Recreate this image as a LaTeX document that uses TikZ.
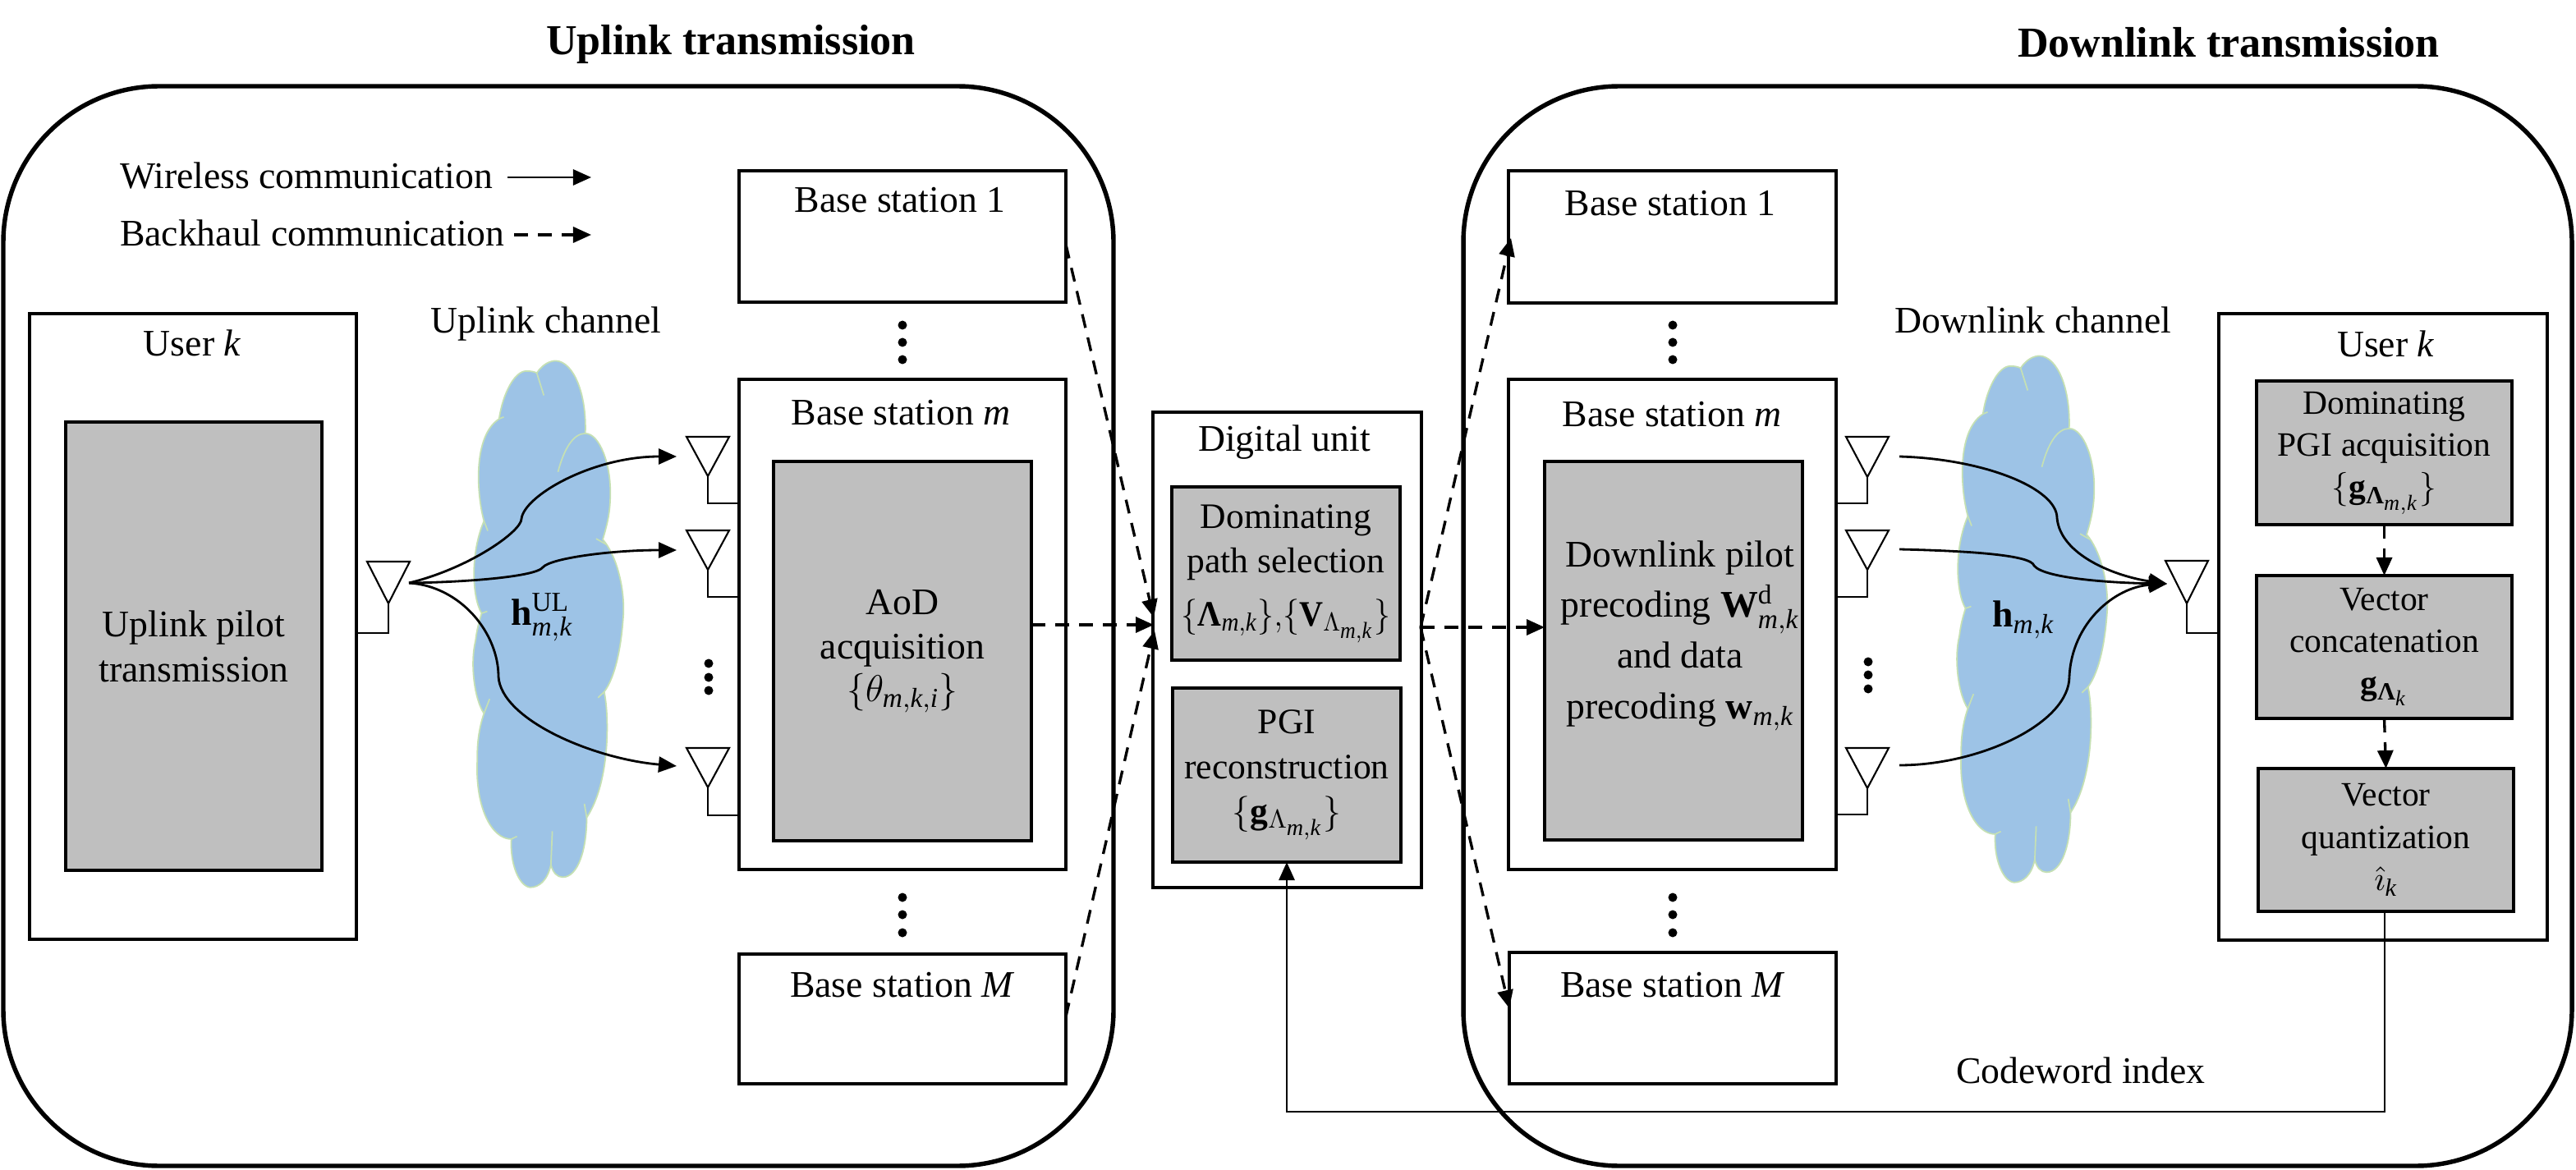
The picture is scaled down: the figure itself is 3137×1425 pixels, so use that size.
\documentclass[tikz,border=0pt]{standalone}
\usepackage{amsmath}
\usepackage{graphicx}
\usepackage{fontspec}
\setmainfont{Liberation Serif}
\usepackage{fix-cm}
\usetikzlibrary{arrows.meta}
\DeclareMathSizes{13}{13}{9.5}{8}
\DeclareMathSizes{12.4}{12.4}{9}{8}
\DeclareMathSizes{11.8}{11.8}{8.6}{7.5}
\DeclareSymbolFont{serifit}{TU}{\rmdefault}{m}{it}
\DeclareMathSymbol{m}{\mathalpha}{serifit}{`m}
\DeclareMathSymbol{k}{\mathalpha}{serifit}{`k}
\DeclareMathSymbol{M}{\mathalpha}{serifit}{`M}
\DeclareMathSymbol{i}{\mathalpha}{serifit}{`i}
\definecolor{greybox}{HTML}{BFBFBF}
\definecolor{cloudfill}{HTML}{9DC3E6}
\definecolor{cloudline}{HTML}{C5E0B4}
\newcommand{\BL}{\text{\textbf{Λ}}}
\tikzset{
  frame/.style={draw=black,line width=1.55pt,rounded corners=1.9cm,inner sep=0pt,outer sep=0pt},
  wbox/.style={draw=black,fill=white,line width=1pt,inner sep=0pt,outer sep=0pt,align=center},
  gbox/.style={draw=black,fill=greybox,line width=1pt,inner sep=0pt,outer sep=0pt,align=center,font=\fontsize{13}{15.6}\selectfont},
  gdu/.style={gbox,font=\fontsize{12.4}{15.4}\selectfont},
  guser/.style={gbox,font=\fontsize{11.8}{14.6}\selectfont},
  lbl/.style={inner sep=0pt,outer sep=0pt,align=center,font=\fontsize{13}{15.6}\selectfont},
  ttl/.style={inner sep=0pt,outer sep=0pt,font=\fontsize{14.8}{17}\selectfont\bfseries},
  wl/.style={draw=black,line width=0.8pt,-{Triangle[length=0.22cm,width=0.19cm]}},
  bh/.style={draw=black,line width=0.95pt,dash pattern=on 0.17cm off 0.12cm,-{Triangle[length=0.22cm,width=0.19cm]}},
  ant/.style={draw=black,line width=0.6pt},
  cloudshape/.style={fill=cloudfill,draw=cloudline,line width=0.5pt},
  cloudseam/.style={draw=cloudline,line width=0.5pt}
}
% name, style, x1,y1,x2,y2, text
\newcommand{\bx}[7]{\node[#2,minimum width={(#5-#3)*0.01cm},minimum height={(#6-#4)*0.01cm}] (#1) at ({(#3+#5)/2},{(#4+#6)/2}) {#7};}
% name, xleft, xcentre, xright, ytop, ytip, yelbow, xbox
\newcommand{\antenna}[8]{\coordinate (#1) at (#3,#5);
  \draw[ant] (#2,#5) -- (#4,#5) -- (#3,#6) -- cycle;
  \draw[ant] (#3,#6) -- (#3,#7) -- (#8,#7);}
\newcommand{\vdotsat}[4]{\fill (#1,#2) circle (0.055cm) (#1,#3) circle (0.055cm) (#1,#4) circle (0.055cm);}
\newcommand{\cloudart}{%
  \path[cloudshape] (442,218) .. controls (455,195) and (470,187) .. (483,187)
    .. controls (520,190) and (548,270) .. (545,372)
    .. controls (575,372) and (600,450) .. (598,530)
    .. controls (598,575) and (590,610) .. (582,642)
    .. controls (610,680) and (628,760) .. (626,830)
    .. controls (622,910) and (610,990) .. (585,1030)
    .. controls (596,1090) and (598,1260) .. (548,1350)
    .. controls (548,1430) and (530,1502) .. (497,1502)
    .. controls (485,1502) and (476,1490) .. (472,1470)
    .. controls (465,1510) and (447,1528) .. (428,1528)
    .. controls (405,1525) and (385,1470) .. (388,1405)
    .. controls (345,1405) and (310,1320) .. (316,1200)
    .. controls (315,1160) and (320,1120) .. (330,1085)
    .. controls (310,1050) and (300,960) .. (312,900)
    .. controls (315,870) and (320,850) .. (325,830)
    .. controls (305,790) and (300,680) .. (330,595)
    .. controls (315,530) and (305,380) .. (362,335)
    .. controls (370,270) and (395,213) .. (420,213)
    .. controls (430,213) and (437,215) .. (442,218) -- cycle;
  \draw[cloudseam] (442,218) -- (457,275);
  \draw[cloudseam] (545,372) .. controls (520,372) and (500,410) .. (487,470);
  \draw[cloudseam] (330,595) -- (338,620);
  \draw[cloudseam] (568,640) -- (590,655);
  \draw[cloudseam] (325,830) -- (337,825);
  \draw[cloudseam] (585,1030) -- (572,1045);
  \draw[cloudseam] (330,1085) -- (342,1048);
  \draw[cloudseam] (548,1350) -- (543,1315);
  \draw[cloudseam] (472,1470) -- (475,1385);
  \draw[cloudseam] (388,1405) -- (400,1398);
  \draw[cloudseam] (362,335) -- (372,330);
}
\begin{document}
\begin{tikzpicture}[x=0.01cm,y=-0.01cm]
\useasboundingbox (0,0) rectangle (3137,1425);
% frames
\bx{ulframe}{frame}{4}{105}{1356}{1420}{}
\bx{dlframe}{frame}{1782}{105}{3132}{1420}{}
\node[ttl] (ultitle) at (890,54) {Uplink transmission};
\node[ttl] (dltitle) at (2714,52) {Downlink transmission};
% clouds
\begin{scope}[shift={(400,350)},x=0.01cm/1.742,y=-0.01cm/2.09]
\cloudart
\end{scope}
\begin{scope}[shift={(2207,344)},x=0.01cm/1.742,y=-0.01cm/2.09]
\cloudart
\end{scope}
% legend
\node[lbl,anchor=west] (leg1) at (146,214) {Wireless communication};
\node[lbl,anchor=west] (leg2) at (146,284) {Backhaul communication};
\coordinate (leg1a) at (618,216); \coordinate (leg1b) at (720,216);
\coordinate (leg2a) at (626,286); \coordinate (leg2b) at (720,286);
\draw[wl] (leg1a) -- (leg1b);
\draw[bh] (leg2a) -- (leg2b);
% left user
\bx{userL}{wbox}{36}{382}{434}{1144}{}
\node[lbl] (userLt) at (234,418) {User $k$};
\bx{pilotL}{gbox}{80}{514}{392}{1060}{Uplink pilot\\transmission}
% left base stations
\node[lbl] (ulch) at (665,395) {Uplink channel};
\bx{bs1L}{wbox}{900}{208}{1298}{368}{}
\node[lbl] (bs1Lt) at (1096,244) {Base station 1};
\vdotsat{1099}{396}{417}{438}
\bx{bsmL}{wbox}{900}{462}{1298}{1059}{}
\node[lbl] (bsmLt) at (1097,503) {Base station $m$};
\bx{aod}{gbox}{942}{562}{1256}{1024}{AoD\\acquisition\\[-1pt]$\{\theta_{m,k,i}\}$}
\vdotsat{1099}{1093}{1114}{1136}
\bx{bsML}{wbox}{900}{1162}{1298}{1320}{}
\node[lbl] (bsMLt) at (1098,1200) {Base station $M$};
% left antennas
\antenna{ant1}{836}{862}{888}{532}{580}{613}{900}
\antenna{ant2}{836}{862}{888}{646}{694}{727}{900}
\antenna{ant3}{836}{862}{888}{911}{959}{993}{900}
\vdotsat{863}{808}{825}{841}
\antenna{antU}{447}{473}{499}{684}{735}{771}{434}
\node[lbl] (hul) at (660,752) {$\mathbf{h}_{m,k}^{\mathrm{UL}}$};
% left curves
\coordinate (ulS) at (498,710);
\coordinate (ulT1) at (824,556); \coordinate (ulT2) at (824,670); \coordinate (ulT3) at (824,933);
\draw[wl] (ulS) .. controls (572,692) and (635,647) .. (635,632) .. controls (638,604) and (721,556) .. (ulT1);
\draw[wl] (ulS) .. controls (572,709) and (653,702) .. (661,691) .. controls (670,680) and (744,670) .. (ulT2);
\draw[wl] (ulS) .. controls (561,714) and (607,771) .. (607,824) .. controls (610,876) and (721,924) .. (ulT3);
% digital unit
\bx{du}{wbox}{1404}{502}{1731}{1081}{}
\node[lbl] (dut) at (1564,539) {Digital unit};
\bx{dom}{gdu}{1427}{593}{1705}{804}{Dominating\\path selection\\[3pt]\scalebox{0.92}[1]{$\{\BL_{m,k}\}{,}\{\mathbf{V}_{\Lambda_{m,k}}\}$}}
\bx{rec}{gdu}{1428}{838}{1706}{1050}{PGI\\reconstruction\\$\{\mathbf{g}_{\Lambda_{m,k}}\}$}
% right base stations
\node[lbl] (dlch) at (2476,390) {Downlink channel};
\bx{bs1R}{wbox}{1837}{208}{2236}{369}{}
\node[lbl] (bs1Rt) at (2034,248) {Base station 1};
\vdotsat{2037}{396}{417}{438}
\bx{bsmR}{wbox}{1837}{462}{2236}{1059}{}
\node[lbl] (bsmRt) at (2036,505) {Base station $m$};
\bx{prec}{gbox}{1881}{562}{2195}{1023}{}
\node[lbl] (prect) at (2046,774) {Downlink pilot\\[2pt]precoding $\mathbf{W}_{m,k}^{\mathrm{d}}$\\[2pt]and data\\[2pt]precoding $\mathbf{w}_{m,k}$};
\vdotsat{2037}{1093}{1114}{1136}
\bx{bsMR}{wbox}{1838}{1160}{2236}{1320}{}
\node[lbl] (bsMRt) at (2036,1200) {Base station $M$};
% right antennas
\antenna{ant4}{2248}{2274}{2300}{532}{581}{613}{2236}
\antenna{ant5}{2248}{2274}{2300}{646}{694}{727}{2236}
\antenna{ant6}{2248}{2274}{2300}{911}{960}{992}{2236}
\vdotsat{2275}{806}{822}{839}
\node[lbl] (hdl) at (2464,755) {$\mathbf{h}_{m,k}$};
% right user
\bx{userR}{wbox}{2702}{382}{3102}{1145}{}
\node[lbl] (userRt) at (2905,419) {User $k$};
\bx{acq}{guser}{2748}{464}{3059}{639}{Dominating\\PGI acquisition\\$\{\mathbf{g}_{\BL_{m,k}}\}$}
\bx{conc}{guser}{2748}{701}{3059}{875}{Vector\\concatenation\\$\mathbf{g}_{\BL_{k}}$}
\bx{quant}{guser}{2750}{936}{3061}{1110}{Vector\\quantization\\$\hat{\imath}_k$}
\antenna{antUR}{2637}{2663}{2689}{683}{735}{771}{2702}
% right curves
\coordinate (dlT) at (2639,711);
\coordinate (dlS1) at (2313,556); \coordinate (dlS2) at (2313,669); \coordinate (dlS3) at (2313,932);
\draw[wl] (dlS1) .. controls (2417,559) and (2505,595) .. (2505,631) .. controls (2509,676) and (2576,702) .. (dlT);
\draw[wl] (dlS2) .. controls (2398,671) and (2474,676) .. (2477,689) .. controls (2490,705) and (2576,710) .. (dlT);
\draw[wl] (dlS3) .. controls (2411,932) and (2520,881) .. (2520,824) .. controls (2523,758) and (2576,715) .. (dlT);
% backhaul arrows
\coordinate (bs1Lo) at (1298,298);
\coordinate (bsMLo) at (1298,1238);
\coordinate (duin1) at (1405,752);
\coordinate (duin2) at (1405,761);
\coordinate (duin3) at (1406,768);
\coordinate (aodo) at (1256,761);
\coordinate (duout) at (1730,764);
\coordinate (bs1Ri) at (1840,290);
\coordinate (bsMRi) at (1838,1228);
\coordinate (preci) at (1881,764);
\draw[bh] (bs1Lo) -- (duin1);
\draw[bh] (aodo) -- (duin2);
\draw[bh] (bsMLo) -- (duin3);
\draw[bh] (duout) -- (bs1Ri);
\draw[bh] (duout) -- (preci);
\draw[bh] (duout) -- (bsMRi);
\draw[bh] (acq.south) -- (conc.north);
\draw[bh] (conc.south) -- (quant.north);
% feedback
\coordinate (fbA) at (2904,1354);
\coordinate (fbB) at (1567,1354);
\draw[wl] (quant.south -| fbA) -- (fbA) -- (fbB) -- (rec.south -| fbB);
\node[lbl] (cw) at (2534,1304) {Codeword index};
\end{tikzpicture}
\end{document}
